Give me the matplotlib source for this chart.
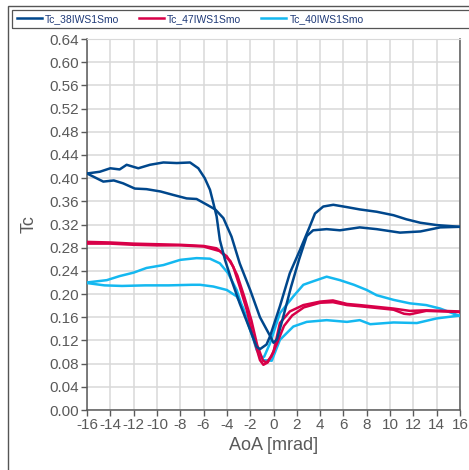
import matplotlib.pyplot as plt
from matplotlib.patches import Rectangle
from matplotlib.lines import Line2D

plt.rcParams['font.family'] = ['Liberation Sans', 'DejaVu Sans']
plt.rcParams['axes.unicode_minus'] = False

# Tc vs angle of attack, each run is a sweep out and back (two branches)
series_names = ["Tc_38IWS1Smo", "Tc_47IWS1Smo", "Tc_40IWS1Smo"]
series_colors = ["#00478c", "#d80048", "#14b8f0"]

tc38_up_x = [-16, -14.9, -14.0, -13.2, -12.6, -11.6, -10.6, -9.45, -8.3, -7.16, -6.45, -5.9,
             -5.45, -5.16, -4.88, -4.6, -4.16, -3.6, -2.9, -2.0, -1.45, -1.16, -0.6, -0.3,
             0.55, 1.4, 2.27, 3.1, 3.56, 4.27, 5.13, 6.3, 7.4, 8.85, 10.3, 11.4, 12.6, 14.0, 16]
tc38_up_y = [0.408, 0.411, 0.417, 0.415, 0.423, 0.417, 0.423, 0.427, 0.426, 0.427, 0.417, 0.400,
             0.380, 0.357, 0.334, 0.293, 0.259, 0.224, 0.184, 0.138, 0.109, 0.105, 0.113, 0.127,
             0.179, 0.236, 0.276, 0.316, 0.339, 0.351, 0.354, 0.350, 0.346, 0.342, 0.336, 0.329,
             0.323, 0.319, 0.316]
tc38_dn_x = [-16, -14.6, -13.7, -12.9, -11.9, -10.9, -9.7, -8.6, -7.45, -6.6, -5.7, -5.0,
             -4.3, -3.6, -2.9, -2.0, -1.16, -0.3, 0.0, 0.3, 0.8, 1.5, 2.2, 2.85, 3.4, 4.56,
             5.7, 7.4, 8.85, 10.85, 12.6, 14.3, 16]
tc38_dn_y = [0.408, 0.394, 0.396, 0.391, 0.382, 0.381, 0.377, 0.371, 0.365, 0.364, 0.354, 0.346,
             0.331, 0.299, 0.253, 0.207, 0.160, 0.128, 0.116, 0.122, 0.158, 0.212, 0.260, 0.300,
             0.310, 0.312, 0.310, 0.315, 0.312, 0.306, 0.308, 0.315, 0.316]

tc47_up_x = [-16, -14, -12, -10, -8, -6.0, -4.9, -4.0, -3.45, -2.9, -2.3, -1.74, -1.16, -0.87,
             -0.5, 0.0, 0.55, 1.4, 2.56, 4.0, 5.1, 6.3, 7.4, 8.85, 10.3, 11.7, 13.1, 16]
tc47_up_y = [0.290, 0.289, 0.287, 0.286, 0.285, 0.283, 0.279, 0.265, 0.247, 0.213, 0.173, 0.126,
             0.086, 0.078, 0.082, 0.100, 0.150, 0.170, 0.181, 0.187, 0.189, 0.183, 0.181, 0.178,
             0.175, 0.171, 0.172, 0.170]
tc47_dn_x = [-16, -14, -12, -10, -8, -6.0, -4.6, -3.7, -3.1, -2.5, -1.9, -1.4, -0.9, -0.6, -0.2,
             0.3, 0.9, 1.6, 2.6, 4.0, 5.1, 6.3, 7.4, 8.85, 10.3, 11.2, 11.7, 12.4, 13.1, 16]
tc47_dn_y = [0.287, 0.287, 0.285, 0.284, 0.284, 0.282, 0.274, 0.257, 0.232, 0.195, 0.155, 0.112,
             0.085, 0.082, 0.092, 0.115, 0.145, 0.163, 0.177, 0.185, 0.186, 0.181, 0.179, 0.176,
             0.173, 0.166, 0.165, 0.168, 0.171, 0.169]

tc40_up_x = [-16, -14.3, -13.2, -12.0, -10.9, -9.45, -8.0, -6.6, -5.45, -4.6, -3.9, -3.16, -2.6,
             -2.0, -1.45, -1.16, -0.8, -0.3, 0.55, 1.7, 2.56, 3.4, 4.56, 5.7, 6.9, 8.0, 8.85,
             10.3, 11.7, 13.1, 14.3, 16]
tc40_up_y = [0.220, 0.224, 0.231, 0.237, 0.245, 0.250, 0.259, 0.262, 0.261, 0.253, 0.236, 0.207,
             0.173, 0.138, 0.108, 0.090, 0.092, 0.115, 0.167, 0.196, 0.216, 0.222, 0.230, 0.224,
             0.216, 0.207, 0.198, 0.190, 0.184, 0.181, 0.175, 0.162]
tc40_dn_x = [-16, -14.5, -13, -11, -9, -7, -6.3, -5.16, -4.0, -3.16, -2.6, -2.0, -1.45, -0.87,
             -0.15, 0.55, 1.7, 2.85, 4.56, 6.3, 7.4, 8.3, 10.3, 12.3, 14.0, 16]
tc40_dn_y = [0.219, 0.215, 0.214, 0.215, 0.215, 0.216, 0.216, 0.213, 0.207, 0.196, 0.176, 0.140,
             0.104, 0.086, 0.085, 0.121, 0.144, 0.152, 0.155, 0.152, 0.155, 0.148, 0.151, 0.150,
             0.158, 0.163]

x_ticks = list(range(-16, 17, 2))
y_ticks = [i * 0.04 for i in range(17)]

branches = [
    [(tc38_up_x, tc38_up_y), (tc38_dn_x, tc38_dn_y)],
    [(tc47_up_x, tc47_up_y), (tc47_dn_x, tc47_dn_y)],
    [(tc40_up_x, tc40_up_y), (tc40_dn_x, tc40_dn_y)],
]

W, H = 469, 470
fig = plt.figure(figsize=(W / 100, H / 100), dpi=100)
ax = fig.add_axes([87 / W, 60 / H, 373 / W, 371 / H])

grid_col = "#d9d9d9"
axis_col = "#5a5a5a"

# draw light blue first so the darker loops sit on top
for idx in [2, 1, 0]:
    for bx, by in branches[idx]:
        ax.plot(bx, by, color=series_colors[idx], lw=1.8, solid_capstyle="round", zorder=3)

ax.set_xlim(-16, 16)
ax.set_ylim(0, 0.64)
ax.set_xticks(x_ticks)
ax.set_xticklabels([str(t) for t in x_ticks])
ax.set_yticks(y_ticks)
ax.set_yticklabels([f"{t:.2f}" for t in y_ticks])
ax.grid(True, color=grid_col, lw=1.1, zorder=0)
ax.set_axisbelow(True)

ax.tick_params(direction="out", length=4, width=1, color=axis_col,
               labelcolor="#5a5a5a", labelsize=11, pad=2)
for side in ["left", "bottom", "right"]:
    ax.spines[side].set_color(axis_col)
    ax.spines[side].set_linewidth(1.1)
ax.spines["top"].set_color(grid_col)

ax.set_xlabel("AoA [mrad]", fontsize=13, color="#5a5a5a", labelpad=3)
ax.set_ylabel("Tc", fontsize=13, color="#5a5a5a", labelpad=8)

# outer frame and legend strip
fig.patches.append(Rectangle((8 / W, -0.05), 1.2, 1.05 - 5.7 / H, transform=fig.transFigure,
                             fill=False, edgecolor="#555555", lw=1.0, zorder=0))
fig.patches.append(Rectangle((12.3 / W, 1 - 27.7 / H), 1.2, 17.7 / H, transform=fig.transFigure,
                             fill=False, edgecolor="#555555", lw=0.9, zorder=0))

handles = [Line2D([], [], color=c, lw=1.8) for c in series_colors]
leg = fig.legend(handles, series_names, loc="center left",
                 bbox_to_anchor=(17 / W, 1 - 18.8 / H), ncol=3, frameon=False,
                 fontsize=7.5, handlelength=2.4, handletextpad=0.3, columnspacing=1.9,
                 borderpad=0, borderaxespad=0)
for t in leg.get_texts():
    t.set_color("#1f3a78")

fig.savefig("out.png", dpi=100)
